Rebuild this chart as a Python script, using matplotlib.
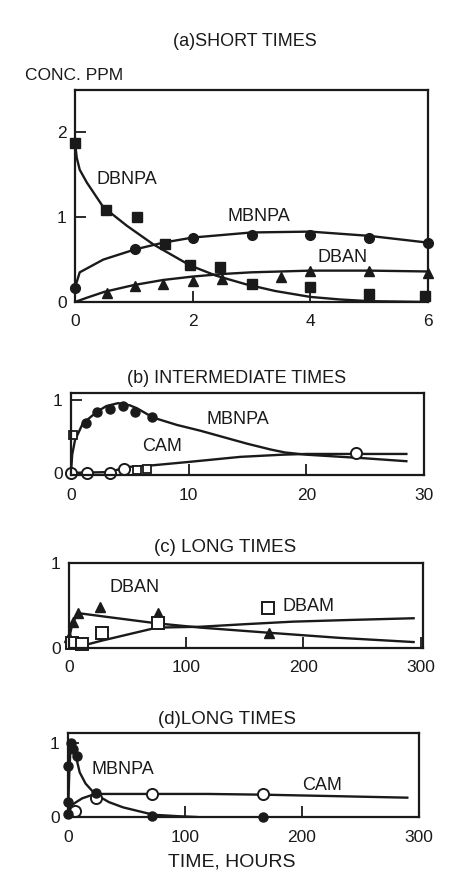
import matplotlib
matplotlib.use("Agg")
import matplotlib.pyplot as plt

plt.rcParams['font.family'] = ['Liberation Sans', 'DejaVu Sans']

W, H = 451, 874

# ---- (a) short times ----
a_dbnpa_t = [0, 0.53, 1.05, 1.53, 1.96, 2.47, 3.0, 4.0, 5.0, 5.95]
a_dbnpa_c = [1.88, 1.08, 1.0, 0.68, 0.44, 0.41, 0.21, 0.18, 0.09, 0.07]
a_mbnpa_t = [0, 1.02, 2.0, 3.0, 4.0, 5.0, 6.0]
a_mbnpa_c = [0.17, 0.62, 0.76, 0.79, 0.79, 0.75, 0.69]
a_dban_t = [0.54, 1.02, 1.5, 2.0, 2.5, 3.5, 4.0, 5.0, 6.0]
a_dban_c = [0.11, 0.19, 0.21, 0.25, 0.27, 0.29, 0.37, 0.37, 0.34]

a_dbnpa_fit_t = [0, 0.03, 0.08, 0.2, 0.48, 0.88, 1.33, 1.96, 2.4, 2.9, 3.4, 4.0, 4.5, 5.0, 6.0]
a_dbnpa_fit_c = [1.88, 1.7, 1.56, 1.41, 1.12, 0.9, 0.68, 0.43, 0.31, 0.21, 0.13, 0.06, 0.03, 0.01, 0.0]
a_mbnpa_fit_t = [0, 0.08, 0.48, 1.02, 1.5, 2.0, 3.0, 4.0, 5.0, 6.0]
a_mbnpa_fit_c = [0.17, 0.35, 0.5, 0.62, 0.7, 0.76, 0.82, 0.83, 0.78, 0.7]
a_dban_fit_t = [0, 0.2, 0.5, 1.0, 1.5, 2.0, 2.5, 3.0, 4.0, 5.0, 6.0]
a_dban_fit_c = [0, 0.05, 0.12, 0.2, 0.26, 0.3, 0.33, 0.35, 0.37, 0.37, 0.36]

# ---- (b) intermediate times ----
b_mbnpa_t = [1.27, 2.2, 3.3, 4.4, 5.4, 6.9]
b_mbnpa_c = [0.68, 0.84, 0.88, 0.92, 0.84, 0.77]
b_cam_t = [0, 1.4, 3.3, 4.5, 24.2]
b_cam_c = [0, 0, 0, 0.05, 0.27]
b_sq_t = [0.17, 5.6, 6.5]
b_sq_c = [0.52, 0.04, 0.05]

b_mbnpa_fit_t = [0, 0.1, 0.34, 1.0, 2.2, 3.0, 4.0, 5.0, 5.6, 7.0, 9.0, 11, 13, 15, 17, 18.2, 20, 22, 25, 28.5]
b_mbnpa_fit_c = [0, 0.25, 0.45, 0.68, 0.84, 0.92, 0.96, 0.93, 0.89, 0.76, 0.66, 0.58, 0.49, 0.4, 0.32, 0.28, 0.25, 0.23, 0.2, 0.16]
b_cam_fit_t = [0, 3.3, 4.7, 6.7, 10, 14.4, 18, 20, 24, 28.5]
b_cam_fit_c = [0, 0.01, 0.08, 0.1, 0.15, 0.22, 0.25, 0.26, 0.26, 0.26]

# ---- (c) long times ----
c_dban_t = [0, 3.4, 7.7, 26.5, 76, 171]
c_dban_c = [0.13, 0.31, 0.41, 0.48, 0.41, 0.18]
c_dbam_t = [2.5, 11, 28, 76, 170]
c_dbam_c = [0.06, 0.05, 0.18, 0.29, 0.47]

c_dban_fit_t = [0, 3, 8, 30, 75, 112, 170, 230, 294]
c_dban_fit_c = [0.1, 0.3, 0.41, 0.37, 0.29, 0.24, 0.18, 0.12, 0.07]
c_dbam_fit_t = [0, 5, 15, 29, 75, 112, 150, 191, 240, 294]
c_dbam_fit_c = [0, 0.01, 0.04, 0.09, 0.24, 0.25, 0.28, 0.31, 0.33, 0.35]

# ---- (d) long times ----
d_mbnpa_t = [0, 0, 0, 2.5, 4, 7.5, 24, 72, 167]
d_mbnpa_c = [0.04, 0.2, 0.68, 1.0, 0.92, 0.82, 0.32, 0.02, 0.0]
d_cam_t = [6, 24, 72, 167]
d_cam_c = [0.08, 0.26, 0.31, 0.31]

d_mbnpa_fit_t = [0, 1, 2, 3.5, 5, 7, 10, 15, 23, 35, 47, 73, 95, 110]
d_mbnpa_fit_c = [0, 0.55, 0.88, 1.0, 0.95, 0.8, 0.6, 0.45, 0.31, 0.2, 0.13, 0.03, 0.01, 0.0]
d_cam_fit_t = [0, 2, 6, 12, 23, 50, 72, 120, 168, 230, 290]
d_cam_fit_c = [0, 0.14, 0.19, 0.25, 0.31, 0.31, 0.31, 0.31, 0.3, 0.28, 0.26]

ink = '#1a1a1a'


def box(l, t, r, b):
    # pixel box -> figure fraction rect
    return [l / W, 1 - b / H, (r - l) / W, (b - t) / H]


def style(ax, xt, yt, xlim, ylim):
    ax.set_xlim(*xlim)
    ax.set_ylim(*ylim)
    ax.set_xticks(xt)
    ax.set_yticks(yt)
    ax.tick_params(direction='in', length=8, width=1.3, labelsize=12.5,
                   color=ink, labelcolor=ink)
    ax.tick_params(axis='x', pad=9)
    ax.tick_params(axis='y', pad=6)
    for s in ax.spines.values():
        s.set_linewidth(1.6)
        s.set_color(ink)


fig = plt.figure(figsize=(W / 100, H / 100), dpi=100)
lw = 1.7
k = ink

ax = fig.add_axes(box(75, 90, 428, 302))
ax.plot(a_dbnpa_fit_t, a_dbnpa_fit_c, color=k, lw=lw)
ax.plot(a_mbnpa_fit_t, a_mbnpa_fit_c, color=k, lw=lw)
ax.plot(a_dban_fit_t, a_dban_fit_c, color=k, lw=lw)
ax.plot(a_dbnpa_t, a_dbnpa_c, 's', color=k, ms=7, clip_on=False)
ax.plot(a_mbnpa_t, a_mbnpa_c, 'o', color=k, ms=7, clip_on=False)
ax.plot(a_dban_t, a_dban_c, '^', color=k, ms=7, clip_on=False)
ax.text(0.37, 1.45, 'DBNPA', fontsize=13, va='center', color=ink)
ax.text(3.13, 1.01, 'MBNPA', fontsize=13, ha='center', va='center', color=ink)
ax.text(4.54, 0.53, 'DBAN', fontsize=13, ha='center', va='center', color=ink)
style(ax, [0, 2, 4, 6], [0, 1, 2], (0, 6), (0, 2.5))

ax = fig.add_axes(box(71, 393, 424, 475))
ax.plot(b_mbnpa_fit_t, b_mbnpa_fit_c, color=k, lw=lw)
ax.plot(b_cam_fit_t, b_cam_fit_c, color=k, lw=lw)
ax.plot(b_mbnpa_t, b_mbnpa_c, 'o', color=k, ms=6.5, clip_on=False)
ax.plot(b_cam_t, b_cam_c, 'o', mfc='white', mec=k, mew=1.4, ms=8, clip_on=False)
ax.plot(b_sq_t, b_sq_c, 's', mfc='white', mec=k, mew=1.3, ms=5.5, clip_on=False)
ax.text(14.2, 0.73, 'MBNPA', fontsize=13, ha='center', va='center', color=ink)
ax.text(7.7, 0.36, 'CAM', fontsize=13, ha='center', va='center', color=ink)
style(ax, [0, 10, 20, 30], [0, 1], (0, 30), (-0.03, 1.1))

ax = fig.add_axes(box(69, 563, 423, 648))
ax.plot(c_dban_fit_t, c_dban_fit_c, color=k, lw=lw)
ax.plot(c_dbam_fit_t, c_dbam_fit_c, color=k, lw=lw)
ax.plot(c_dban_t, c_dban_c, '^', color=k, ms=7, clip_on=False)
ax.plot(c_dbam_t, c_dbam_c, 's', mfc='white', mec=k, mew=1.4, ms=8, clip_on=False)
ax.text(56, 0.71, 'DBAN', fontsize=13, ha='center', va='center', color=ink)
ax.text(204, 0.49, 'DBAM', fontsize=13, ha='center', va='center', color=ink)
style(ax, [0, 100, 200, 300], [0, 1], (0, 302), (0, 1))

ax = fig.add_axes(box(68, 733, 419, 817))
ax.plot(d_mbnpa_fit_t, d_mbnpa_fit_c, color=k, lw=lw)
ax.plot(d_cam_fit_t, d_cam_fit_c, color=k, lw=lw)
ax.plot(d_cam_t, d_cam_c, 'o', mfc='white', mec=k, mew=1.4, ms=8, clip_on=False)
ax.plot(d_mbnpa_t, d_mbnpa_c, 'o', color=k, ms=6.5, clip_on=False)
ax.text(46.6, 0.64, 'MBNPA', fontsize=13, ha='center', va='center', color=ink)
ax.text(217, 0.43, 'CAM', fontsize=13, ha='center', va='center', color=ink)
style(ax, [0, 100, 200, 300], [0, 1], (0, 300), (0, 1.13))

fig.text(245 / W, 1 - 41 / H, '(a)SHORT TIMES', fontsize=13, ha='center', va='center', color=ink)
fig.text(25 / W, 1 - 75 / H, 'CONC. PPM', fontsize=12.5, ha='left', va='center', color=ink)
fig.text(237 / W, 1 - 378 / H, '(b) INTERMEDIATE TIMES', fontsize=13, ha='center', va='center', color=ink)
fig.text(225 / W, 1 - 548 / H, '(c) LONG TIMES', fontsize=13.5, ha='center', va='center', color=ink)
fig.text(227 / W, 1 - 719 / H, '(d)LONG TIMES', fontsize=13.5, ha='center', va='center', color=ink)
fig.text(232 / W, 1 - 862 / H, 'TIME, HOURS', fontsize=14, ha='center', va='center', color=ink)

fig.savefig('out.png', dpi=100)
